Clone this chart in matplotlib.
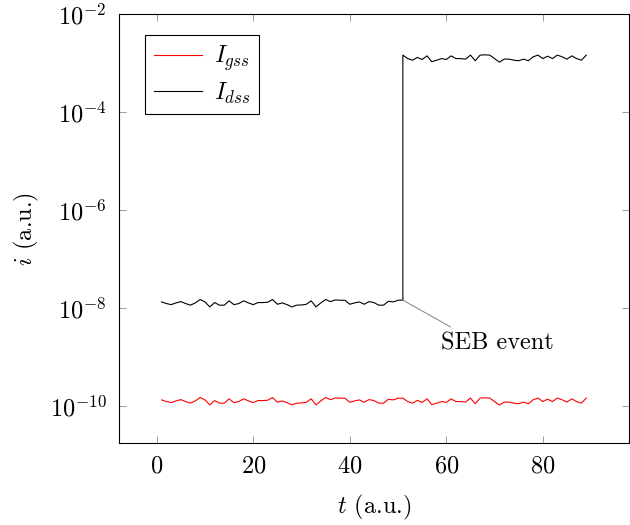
import numpy as np
import matplotlib
matplotlib.use("Agg")
import matplotlib.pyplot as plt
from matplotlib.ticker import LogLocator, NullLocator

plt.rcParams['font.family'] = 'serif'
plt.rcParams['font.serif'] = ['cmr10']
plt.rcParams['mathtext.fontset'] = 'cm'
plt.rcParams['axes.formatter.use_mathtext'] = True

# 时间轴 t = 1..89
t = np.arange(1, 90)

# 读图得到的噪声尾数（两条曲线走势相同）
mant = np.array([
    1.34, 1.24, 1.18, 1.28, 1.36, 1.24, 1.15, 1.28, 1.50, 1.34,
    1.06, 1.30, 1.15, 1.15, 1.41, 1.18, 1.24, 1.41, 1.28, 1.18,
    1.30, 1.30, 1.32, 1.50, 1.20, 1.28, 1.18, 1.06, 1.15, 1.16,
    1.20, 1.41, 1.06, 1.28, 1.50, 1.36, 1.47, 1.45, 1.45, 1.20,
    1.28, 1.34, 1.20, 1.36, 1.30, 1.15, 1.15, 1.38, 1.34, 1.45,
    1.46, 1.24, 1.15, 1.31, 1.19, 1.41, 1.07, 1.15, 1.24, 1.19,
    1.41, 1.24, 1.24, 1.21, 1.46, 1.12, 1.46, 1.48, 1.46, 1.24,
    1.05, 1.21, 1.21, 1.15, 1.12, 1.21, 1.12, 1.35, 1.46, 1.24,
    1.39, 1.24, 1.46, 1.35, 1.21, 1.41, 1.24, 1.15, 1.46,
])

igss = mant * 1e-10
# SEB 事件在 t=51
t_low, t_high = t[:51], t[50:]
idss_low = mant[:51] * 1e-8
idss_high = mant[50:] * 1e-3
t_dss = np.concatenate([t_low, t_high])
idss = np.concatenate([idss_low, idss_high])

fig = plt.figure(figsize=(6.3, 5.25), dpi=100)
ax = fig.add_axes([0.189, 0.156, 0.809, 0.817])

ax.plot(t, igss, color='red', lw=0.8, label=r'$I_{gss}$')
ax.plot(t_dss, idss, color='black', lw=0.8, label=r'$I_{dss}$')

ax.set_yscale('log')
ax.set_xlim(-7.8, 97.8)
ax.set_ylim(1.76e-11, 1e-2)
ax.set_xticks([0, 20, 40, 60, 80])
ax.yaxis.set_major_locator(LogLocator(base=100))
ax.yaxis.set_minor_locator(NullLocator())

ax.tick_params(direction='in', top=True, right=True, length=5, width=0.5,
               color='0.45', labelsize=17.5, pad=9)
for s in ax.spines.values():
    s.set_linewidth(0.8)

ax.set_xlabel(r'$t$ (a.u.)', fontsize=17.5, labelpad=11)
ax.set_ylabel(r'$i$ (a.u.)', fontsize=17.5, labelpad=6)

ax.annotate('SEB event', xy=(t_low[-1], idss_low[-1]), xytext=(70.6, 1.9e-9),
            ha='center', va='center', fontsize=17.5,
            arrowprops=dict(arrowstyle='-', color='gray', lw=0.7,
                            relpos=(0.17, 1.0), shrinkA=4, shrinkB=0))

leg = ax.legend(loc='upper left', bbox_to_anchor=(0.051, 0.951), borderaxespad=0,
                fontsize=17.5, fancybox=False, framealpha=1,
                edgecolor='black', handlelength=2.0,
                borderpad=0.35, labelspacing=0.3, handletextpad=0.5)
leg.get_frame().set_linewidth(0.8)

fig.savefig('out.png', dpi=100)
